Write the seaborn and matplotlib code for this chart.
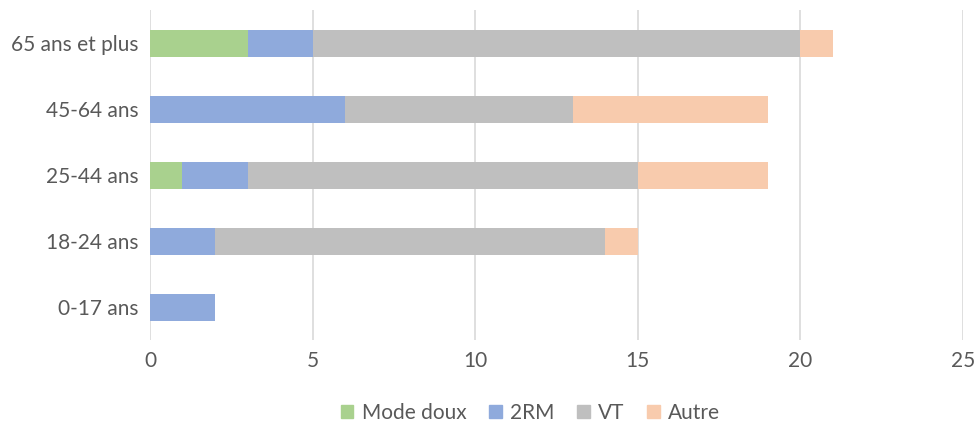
import matplotlib
matplotlib.use("Agg")
import matplotlib.pyplot as plt
import matplotlib.patches as mpatches
import pandas as pd
import seaborn as sns

# ---------------------------------------------------------------------------
# Data
# ---------------------------------------------------------------------------
age_groups = ["65 ans et plus", "45-64 ans", "25-44 ans", "18-24 ans", "0-17 ans"]
series = ["Mode doux", "2RM", "VT", "Autre"]
mode_doux = [3, 0, 1, 0, 0]
deux_rm = [2, 6, 2, 2, 2]
vt = [15, 7, 12, 12, 0]
autre = [1, 6, 4, 1, 0]
colors = ["#A9D18E", "#8FAADC", "#BFBFBF", "#F8CBAD"]

df = pd.DataFrame(
    {"age": age_groups, "Mode doux": mode_doux, "2RM": deux_rm, "VT": vt, "Autre": autre}
)
# cumulative totals for stacking (drawn back to front)
cum = df[series].cumsum(axis=1)
cum["age"] = df["age"]

# ---------------------------------------------------------------------------
# Plot
# ---------------------------------------------------------------------------
plt.rcParams["font.family"] = ["Lato", "DejaVu Sans"]
text_col = "#595959"

fig = plt.figure(figsize=(9.77, 4.24), dpi=100)
ax = fig.add_axes([0.1535, 0.198, 0.832, 0.778])

for name, col in reversed(list(zip(series, colors))):
    sns.barplot(
        data=cum, x=name, y="age", order=age_groups, color=col,
        width=0.41, saturation=1, ax=ax, orient="h", linewidth=0,
    )

ax.set_xlim(0, 25)
ax.set_xticks(range(0, 26, 5))
ax.set_xlabel("")
ax.set_ylabel("")
ax.grid(axis="x", color="#D9D9D9", linewidth=1.2)
ax.set_axisbelow(True)
for s in ax.spines.values():
    s.set_visible(False)
ax.tick_params(length=0, labelsize=15, colors=text_col)
ax.tick_params(axis="x", pad=8)
ax.tick_params(axis="y", pad=8)

handles = [mpatches.Patch(color=c, label=n) for n, c in zip(series, colors)]
fig.legend(
    handles=handles, loc="center", bbox_to_anchor=(0.543, 0.027), ncol=4,
    frameon=False, fontsize=15, labelcolor=text_col,
    handlelength=0.6, handleheight=0.6, handletextpad=0.4, columnspacing=1.1,
)

fig.savefig("out.png", dpi=100)
